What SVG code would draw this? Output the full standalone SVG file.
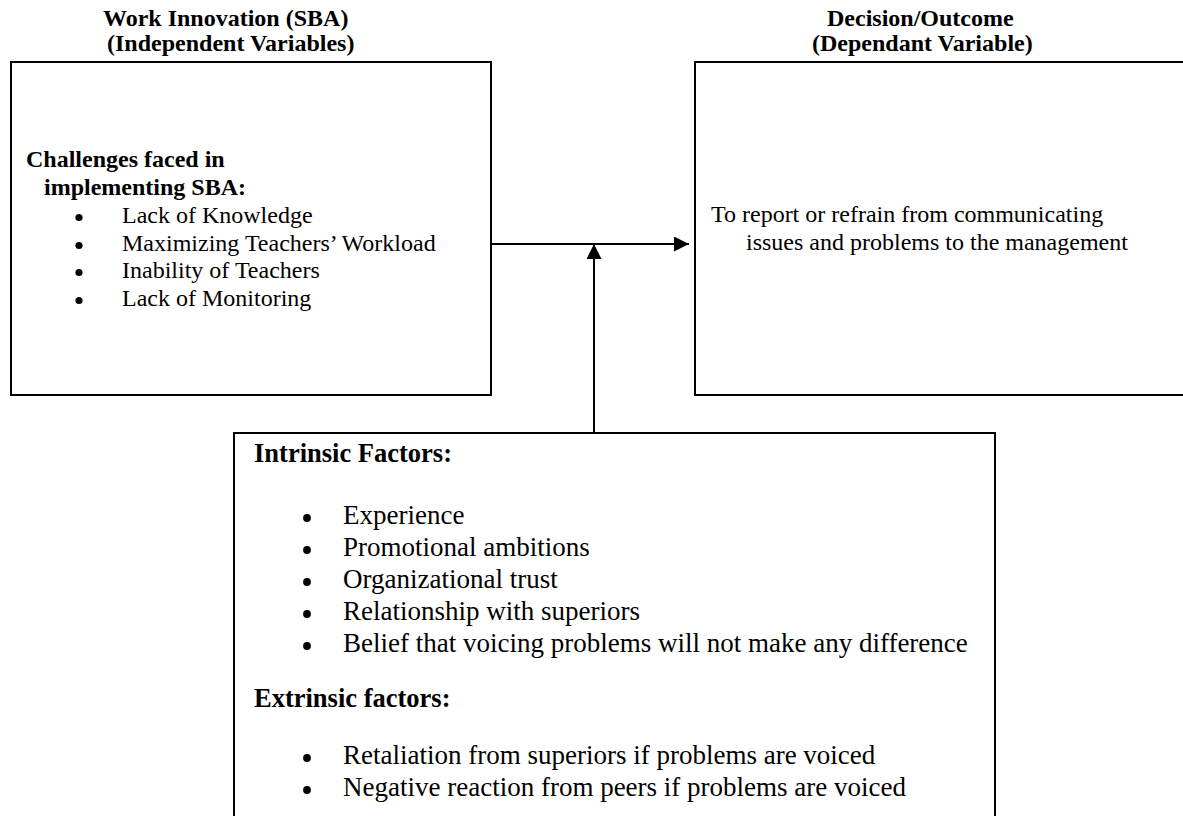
<svg xmlns="http://www.w3.org/2000/svg" width="1183" height="816" viewBox="0 0 1183 816">
  <style>
    .box { fill: #ffffff; stroke: #000000; stroke-width: 2; }
    .t { font-family: "Liberation Serif", "Times New Roman", serif; font-size: 24px; fill: #000000; }
    .b { font-weight: bold; }
    .big { font-size: 27px; }
    .bigb { font-size: 26.5px; font-weight: bold; }
    .dot { fill: #000000; }
    .conn { stroke: #000000; stroke-width: 2; fill: none; }
  </style>
  <defs>
    <marker id="arrow" viewBox="0 0 15 15" refX="15" refY="7.5" markerWidth="15" markerHeight="15" markerUnits="userSpaceOnUse" orient="auto">
      <path d="M0,0 L15,7.5 L0,15 Z" fill="#000000"/>
    </marker>
  </defs>
  <rect width="1183" height="816" fill="#ffffff"/>

  <g id="header-left">
    <text class="t b" x="103" y="26">Work Innovation (SBA)</text>
    <text class="t b" x="107" y="51">(Independent Variables)</text>
  </g>
  <g id="header-right">
    <text class="t b" x="827" y="26">Decision/Outcome</text>
    <text class="t b" x="812" y="51">(Dependant Variable)</text>
  </g>

  <g id="work-innovation">
    <rect class="box" x="11" y="62" width="480" height="333"/>
    <text class="t b" x="26" y="167">Challenges faced in</text>
    <text class="t b" x="44" y="195">implementing SBA:</text>
    <circle class="dot" cx="79" cy="217.5" r="3.6"/>
    <text class="t" x="122" y="223">Lack of Knowledge</text>
    <circle class="dot" cx="79" cy="245.5" r="3.6"/>
    <text class="t" x="122" y="251">Maximizing Teachers’ Workload</text>
    <circle class="dot" cx="79" cy="272.5" r="3.6"/>
    <text class="t" x="122" y="278">Inability of Teachers</text>
    <circle class="dot" cx="79" cy="300.5" r="3.6"/>
    <text class="t" x="122" y="306">Lack of Monitoring</text>
  </g>

  <g id="decision-outcome">
    <rect class="box" x="695" y="62" width="500" height="333"/>
    <text class="t" x="711" y="222">To report or refrain from communicating</text>
    <text class="t" x="746" y="250">issues and problems to the management</text>
  </g>

  <g id="factors">
    <rect class="box" x="234" y="433" width="761" height="400"/>
    <text class="t bigb" x="254" y="462">Intrinsic Factors:</text>
    <circle class="dot" cx="307" cy="518" r="3.9"/>
    <text class="t big" x="343" y="524">Experience</text>
    <circle class="dot" cx="307" cy="550" r="3.9"/>
    <text class="t big" x="343" y="556">Promotional ambitions</text>
    <circle class="dot" cx="307" cy="582" r="3.9"/>
    <text class="t big" x="343" y="588">Organizational trust</text>
    <circle class="dot" cx="307" cy="614" r="3.9"/>
    <text class="t big" x="343" y="620">Relationship with superiors</text>
    <circle class="dot" cx="307" cy="646" r="3.9"/>
    <text class="t big" x="343" y="652">Belief that voicing problems will not make any difference</text>
    <text class="t bigb" x="254" y="707">Extrinsic factors:</text>
    <circle class="dot" cx="307" cy="758" r="3.9"/>
    <text class="t big" x="343" y="764">Retaliation from superiors if problems are voiced</text>
    <circle class="dot" cx="307" cy="790" r="3.9"/>
    <text class="t big" x="343" y="796">Negative reaction from peers if problems are voiced</text>
  </g>

  <g id="connectors">
    <line class="conn" x1="491" y1="244" x2="689" y2="244" marker-end="url(#arrow)"/>
    <line class="conn" x1="594" y1="433" x2="594" y2="244" marker-end="url(#arrow)"/>
  </g>
</svg>
